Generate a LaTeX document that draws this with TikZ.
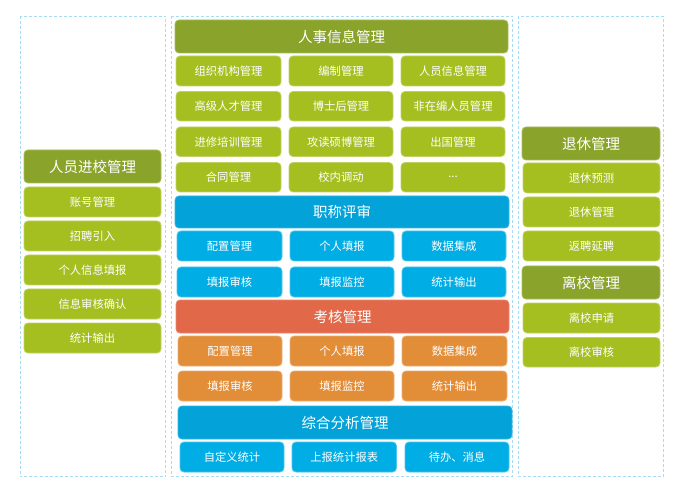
\documentclass[tikz,border=0pt]{standalone}
\usepackage{fontspec}
\setmainfont{Noto Sans CJK SC}
\begin{document}
\begin{tikzpicture}[x=1pt,y=-1pt,
  base/.style={rectangle,rounded corners=4pt,inner sep=0pt,outer sep=0pt,text=white,line width=0.8pt,anchor=north west,align=center},
  hg/.style={base,fill=hgreen,draw=hgreen!75!white,font=\fontsize{14.5}{16}\selectfont},
  bg/.style={base,fill=bgreen,draw=bgreen!70!white,font=\fontsize{11.3}{13}\selectfont},
  hb/.style={base,fill=hblue,draw=hblue!80!white,font=\fontsize{14.5}{16}\selectfont},
  bb/.style={base,fill=bblue,draw=bblue!70!white,font=\fontsize{11.3}{13}\selectfont},
  hr/.style={base,fill=hred,draw=hred!80!white,font=\fontsize{14.5}{16}\selectfont},
  bo/.style={base,fill=borange,draw=borange!70!white,font=\fontsize{11.3}{13}\selectfont},
  frame/.style={draw=dashc,dash pattern=on 3pt off 2pt,line width=0.9pt}]
\definecolor{hgreen}{HTML}{8AA42B}
\definecolor{bgreen}{HTML}{A5BF21}
\definecolor{hblue}{HTML}{03A3D9}
\definecolor{bblue}{HTML}{00ADE4}
\definecolor{hred}{HTML}{E2684A}
\definecolor{borange}{HTML}{E28D38}
\definecolor{dashc}{HTML}{A6DCF6}
\newcommand\bx[7]{\node[#2,minimum width={(#5-#3)*1pt},minimum height={(#6-#4)*1pt}] (#1) at (#3,#4) {#7};}
\useasboundingbox (0,0) rectangle (683,497);
% frames
\draw[frame] (20,16) rectangle (165.5,476.5);
\draw[frame] (171.5,16) rectangle (512,476.5);
\draw[frame] (518,16) rectangle (663,476.5);
% left column
\bx{lh}{hg}{24}{150}{161}{183}{人员进校管理}
\bx{l1}{bg}{24}{187}{161}{217}{账号管理}
\bx{l2}{bg}{24}{221}{161}{251}{招聘引入}
\bx{l3}{bg}{24}{255}{161}{285}{个人信息填报}
\bx{l4}{bg}{24}{289}{161}{319}{信息审核确认}
\bx{l5}{bg}{24}{323}{161}{353}{统计输出}
% middle: 人事信息管理
\bx{mh1}{hg}{175}{20}{508}{53}{人事信息管理}
\bx{a11}{bg}{176}{56}{281}{86}{组织机构管理}
\bx{a12}{bg}{289}{56}{393}{86}{编制管理}
\bx{a13}{bg}{401}{56}{505}{86}{人员信息管理}
\bx{a21}{bg}{176}{91.5}{281}{121}{高级人才管理}
\bx{a22}{bg}{289}{91.5}{393}{121}{博士后管理}
\bx{a23}{bg}{401}{91.5}{505}{121}{非在编人员管理}
\bx{a31}{bg}{176}{127}{281}{156.5}{进修培训管理}
\bx{a32}{bg}{289}{127}{393}{156.5}{攻读硕博管理}
\bx{a33}{bg}{401}{127}{505}{156.5}{出国管理}
\bx{a41}{bg}{176}{162.5}{281}{192}{合同管理}
\bx{a42}{bg}{289}{162.5}{393}{192}{校内调动}
\bx{a43}{bg}{401}{162.5}{505}{192}{...}
% 职称评审
\bx{mh2}{hb}{175}{196}{509}{228}{职称评审}
\bx{b11}{bb}{177}{231}{282}{261}{配置管理}
\bx{b12}{bb}{290}{231}{394}{261}{个人填报}
\bx{b13}{bb}{402}{231}{506}{261}{数据集成}
\bx{b21}{bb}{177}{267}{282}{297}{填报审核}
\bx{b22}{bb}{290}{267}{394}{297}{填报监控}
\bx{b23}{bb}{402}{267}{506}{297}{统计输出}
% 考核管理
\bx{mh3}{hr}{176}{300}{509}{333}{考核管理}
\bx{c11}{bo}{178}{336}{282}{366}{配置管理}
\bx{c12}{bo}{290}{336}{394}{366}{个人填报}
\bx{c13}{bo}{402}{336}{507}{366}{数据集成}
\bx{c21}{bo}{178}{371}{282}{401}{填报审核}
\bx{c22}{bo}{290}{371}{394}{401}{填报监控}
\bx{c23}{bo}{402}{371}{507}{401}{统计输出}
% 综合分析管理
\bx{mh4}{hb}{178}{406}{512}{439}{综合分析管理}
\bx{d1}{bb}{180}{442}{284}{472}{自定义统计}
\bx{d2}{bb}{292}{442}{396.5}{472}{上报统计报表}
\bx{d3}{bb}{405}{442}{509}{472}{待办、消息}
% right column
\bx{rh1}{hg}{522}{127}{660}{160}{退休管理}
\bx{r1}{bg}{523}{163}{660}{193}{退休预测}
\bx{r2}{bg}{523}{197}{660}{227}{退休管理}
\bx{r3}{bg}{523}{231}{660}{261}{返聘延聘}
\bx{rh2}{hg}{522}{266}{660}{299}{离校管理}
\bx{r4}{bg}{523}{303}{660}{333}{离校申请}
\bx{r5}{bg}{523}{337.5}{660}{367}{离校审核}
\end{tikzpicture}
\end{document}
